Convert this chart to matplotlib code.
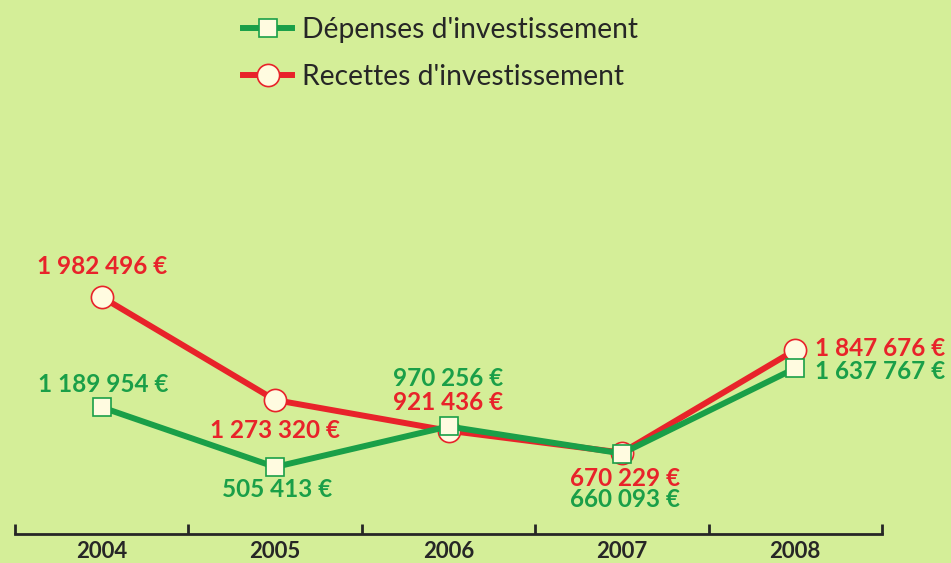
import matplotlib
matplotlib.use("Agg")
import matplotlib.pyplot as plt
from matplotlib.lines import Line2D

plt.rcParams['font.family'] = ['Lato', 'DejaVu Sans']

years = ['2004', '2005', '2006', '2007', '2008']
depenses = [1189954, 505413, 970256, 660093, 1637767]
recettes = [1982496, 1273320, 921436, 670229, 1847676]
# vertical position of the red 2004 marker as drawn in the picture
recettes_drawn = [2455000, 1273320, 921436, 670229, 1847676]

BG = '#d4ee98'
RED = '#e8232a'
GREEN = '#1a9f48'
FACE = '#fffbe0'
DARK = '#262626'

def fmt(v):
    return '{:,}'.format(v).replace(',', ' ') + ' €'

fig = plt.figure(figsize=(9.51, 5.63), dpi=100, facecolor=BG)
ax = fig.add_axes([15/951, 29/563, 867/951, 434/563])
ax.set_facecolor(BG)
x = list(range(len(years)))

ax.plot(x, recettes_drawn, color=RED, lw=4.3, marker='o', ms=16,
        mfc=FACE, mec=RED, mew=1.2, solid_capstyle='butt', zorder=3)
ax.plot(x, depenses, color=GREEN, lw=4.3, marker='s', ms=13.5,
        mfc=FACE, mec=GREEN, mew=1.2, solid_capstyle='butt', zorder=4)

ax.set_xlim(-0.5, 4.5)
ax.set_ylim(-263000, 4714000)
for s in ['top', 'left', 'right']:
    ax.spines[s].set_visible(False)
ax.spines['bottom'].set_color(DARK)
ax.spines['bottom'].set_linewidth(2.0)
ax.set_yticks([])
ax.set_xticks([i - 0.5 for i in range(len(years) + 1)])
ax.set_xticklabels([])
ax.tick_params(axis='x', which='major', direction='in', length=7, width=2.0, color=DARK)
ax.set_xticks(x, minor=True)
ax.set_xticklabels(years, minor=True, fontsize=16, fontweight='bold', color=DARK)
ax.tick_params(axis='x', which='minor', length=0, pad=5)

lab_kw = dict(textcoords='offset points', fontsize=17.5, fontweight='bold',
              va='center', annotation_clip=False)
# (dx, dy) offsets in pixels -> points
def off(dx, dy):
    return (dx * 0.72, dy * 0.72)

red_offsets = [(0, 30, 'center'), (0, -30, 'center'), (0, 28, 'center'),
               (3, -26, 'center'), (20, 1, 'left')]
green_offsets = [(2, 23, 'center'), (2, -23, 'center'), (0, 48, 'center'),
                 (3, -46, 'center'), (20, -3, 'left')]
for i in x:
    dx, dy, ha = red_offsets[i]
    ax.annotate(fmt(recettes[i]), (i, recettes_drawn[i]), xytext=off(dx, dy),
                color=RED, ha=ha, **lab_kw)
    dx, dy, ha = green_offsets[i]
    ax.annotate(fmt(depenses[i]), (i, depenses[i]), xytext=off(dx, dy),
                color=GREEN, ha=ha, **lab_kw)

handles = [
    Line2D([], [], color=GREEN, lw=4.3, marker='s', ms=13.5, mfc=FACE, mec=GREEN, mew=1.2),
    Line2D([], [], color=RED, lw=4.3, marker='o', ms=16, mfc=FACE, mec=RED, mew=1.2),
]
fig.legend(handles, ["Dépenses d'investissement", "Recettes d'investissement"],
           loc='upper left', bbox_to_anchor=(243/951, 1 - 17/563), frameon=False,
           fontsize=20.3, handlelength=1.75, handletextpad=0.35, labelspacing=0.75,
           labelcolor=DARK, borderaxespad=0, borderpad=0)

fig.savefig('out.png', dpi=100, facecolor=BG)
